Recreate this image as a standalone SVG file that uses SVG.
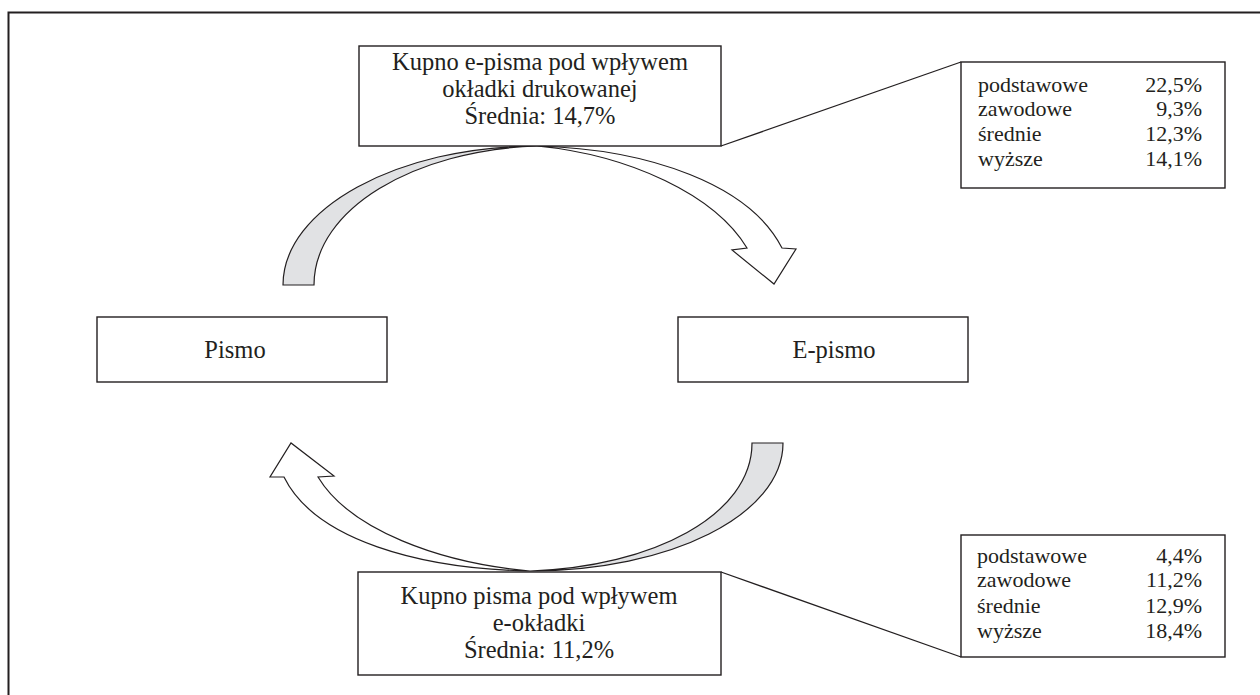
<svg xmlns="http://www.w3.org/2000/svg" width="1260" height="695" viewBox="0 0 1260 695">
<style>
  text { font-family: 'Liberation Serif', 'Times New Roman', serif; font-size: 24.5px; fill: #231f20; }
  text.t { font-size: 22px; }
  .box { fill: #ffffff; stroke: #231f20; stroke-width: 1.4; }
  .mid { text-anchor: middle; }
  .end { text-anchor: end; }
  .arrow { stroke: #231f20; stroke-width: 1.2; stroke-linejoin: miter; }
  .gray { fill: #e1e2e4; }
  .white { fill: #ffffff; }
  .line { stroke: #231f20; stroke-width: 1.3; fill: none; }
</style>
<rect x="0" y="0" width="1260" height="695" fill="#ffffff"/>
<rect x="8.5" y="12.5" width="1300" height="800" fill="none" stroke="#231f20" stroke-width="2"/>

<g id="connectors">
  <path class="arrow gray" d="M 283,285 C 283,209 397,146 537,146 C 414,150 314,209 314,285 Z"/>
  <path class="arrow white" d="M 537,146 C 650,149 750,185 782,248 L 796,249 L 774,284 L 732,250 L 747,248 C 715,195 630,155 537,146 Z"/>
  <path class="arrow gray" d="M 783,443 C 783,515 670,571 530,571 C 653,567 752,515 752,443 Z"/>
  <path class="arrow white" d="M 530,571 C 420,569 315,540 284,477 L 270,477 L 291,443 L 334,476 L 318,477 C 350,530 440,563 530,571 Z"/>
  <line class="line" x1="721" y1="146" x2="961" y2="62"/>
  <line class="line" x1="721" y1="572" x2="961" y2="657"/>
</g>

<g id="node-top">
  <rect class="box" x="359" y="46" width="362" height="100"/>
  <text class="mid" x="540" y="70">Kupno e-pisma pod wpływem</text>
  <text class="mid" x="540" y="97">okładki drukowanej</text>
  <text class="mid" x="540" y="124">Średnia: 14,7%</text>
</g>

<g id="node-pismo">
  <rect class="box" x="97" y="317" width="290" height="65"/>
  <text class="mid" x="235" y="358">Pismo</text>
</g>

<g id="node-epismo">
  <rect class="box" x="678" y="317" width="290" height="65"/>
  <text class="mid" x="834" y="358">E-pismo</text>
</g>

<g id="node-bottom">
  <rect class="box" x="358" y="572" width="363" height="103"/>
  <text class="mid" x="539" y="604">Kupno pisma pod wpływem</text>
  <text class="mid" x="539" y="631">e-okładki</text>
  <text class="mid" x="539" y="658">Średnia: 11,2%</text>
</g>

<g id="table-top">
  <rect class="box" x="961" y="62" width="264" height="126"/>
  <text class="t" x="978" y="92">podstawowe</text>
  <text class="t" x="978" y="116">zawodowe</text>
  <text class="t" x="978" y="141">średnie</text>
  <text class="t" x="978" y="166">wyższe</text>
  <text class="t end" x="1202" y="92">22,5%</text>
  <text class="t end" x="1202" y="116">9,3%</text>
  <text class="t end" x="1202" y="141">12,3%</text>
  <text class="t end" x="1202" y="166">14,1%</text>
</g>

<g id="table-bottom">
  <rect class="box" x="961" y="535" width="264" height="122"/>
  <text class="t" x="977" y="563">podstawowe</text>
  <text class="t" x="977" y="587">zawodowe</text>
  <text class="t" x="977" y="613">średnie</text>
  <text class="t" x="977" y="638">wyższe</text>
  <text class="t end" x="1202" y="563">4,4%</text>
  <text class="t end" x="1202" y="587">11,2%</text>
  <text class="t end" x="1202" y="613">12,9%</text>
  <text class="t end" x="1202" y="638">18,4%</text>
</g>
</svg>
